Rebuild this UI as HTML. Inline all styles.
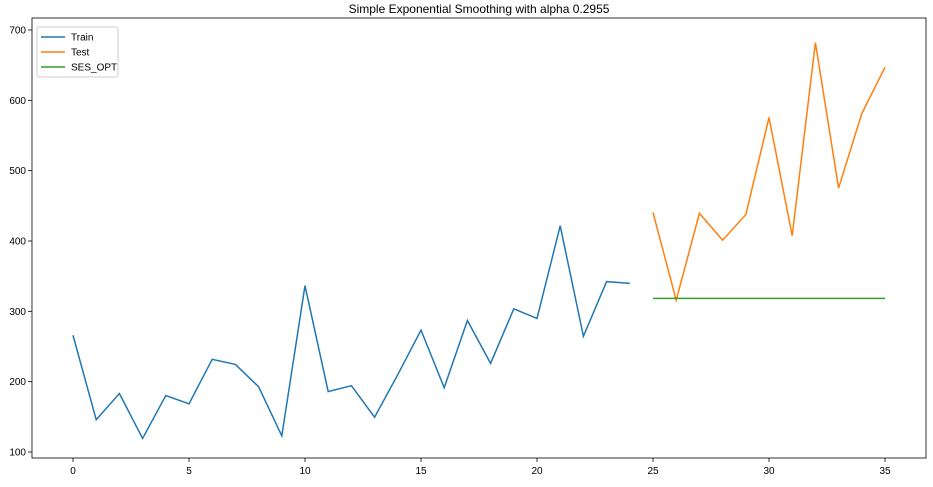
<!DOCTYPE html>
<html><head><meta charset="utf-8"><style>
body{margin:0;background:#fff;font-family:"Liberation Sans","DejaVu Sans",sans-serif;}
svg text{font-family:"Liberation Sans","DejaVu Sans",sans-serif;}
</style></head><body>
<svg id="chart" width="933" height="482" xmlns="http://www.w3.org/2000/svg"></svg>
<script>
const trainValues=[266.0,145.9,183.1,119.3,180.3,168.5,231.8,224.5,192.8,122.9,336.5,185.9,194.3,149.5,210.1,273.3,191.4,287.0,226.0,303.6,289.9,421.6,264.5,342.3,339.7];
const testValues=[440.4,315.9,439.3,401.3,437.4,575.5,407.6,682.0,475.3,581.3,646.9];
const sesValue=318.5;
const xTicks=[0,5,10,15,20,25,30,35];
const yTicks=[100,200,300,400,500,600,700];
const titleText="Simple Exponential Smoothing with alpha 0.2955";

const svg=document.getElementById('chart');
const NS="http://www.w3.org/2000/svg";
const L=32,R=926,T=18,B=458;
const xs=v=>73+(v-0)*(885-73)/35;
const ys=v=>452-(v-100)*(452-30)/600;
function mk(tag,attrs){const e=document.createElementNS(NS,tag);for(const k in attrs)e.setAttribute(k,attrs[k]);svg.appendChild(e);return e;}

const frame=mk('rect',{x:L,y:T,width:R-L,height:B-T,fill:'none',stroke:'#000','stroke-width':0.8});



const title=mk('text',{x:(L+R)/2,y:13,'text-anchor':'middle','font-size':12});
title.textContent=titleText;



xTicks.forEach(t=>{
  const x=xs(t);
  const tk=mk('line',{x1:x,x2:x,y1:B,y2:B+4,stroke:'#000','stroke-width':0.8});
  
  
  const lb=mk('text',{x:x,y:B+16,'text-anchor':'middle','font-size':10});
  lb.textContent=t;
  
  
});
yTicks.forEach(t=>{
  const y=ys(t);
  const tk=mk('line',{x1:L-4,x2:L,y1:y,y2:y,stroke:'#000','stroke-width':0.8});
  
  
  const lb=mk('text',{x:L-6,y:y+3.5,'text-anchor':'end','font-size':10});
  lb.textContent=t;
  
  
});

const trainPts=trainValues.map((v,i)=>xs(i)+','+ys(v)).join(' ');
const tr=mk('polyline',{points:trainPts,fill:'none',stroke:'#1f77b4','stroke-width':1.5});



const off=trainValues.length;
const testPts=testValues.map((v,i)=>xs(i+off)+','+ys(v)).join(' ');
const te=mk('polyline',{points:testPts,fill:'none',stroke:'#ff7f0e','stroke-width':1.5});



const se=mk('line',{x1:xs(off),x2:xs(off+testValues.length-1),y1:ys(sesValue),y2:ys(sesValue),stroke:'#2ca02c','stroke-width':1.5});



const lg=mk('rect',{x:37,y:27,width:81,height:50,fill:'#fff',stroke:'#ccc','stroke-width':1,rx:2});


[['Train','#1f77b4'],['Test','#ff7f0e'],['SES_OPT','#2ca02c']].forEach((e,i)=>{
  const y=37+i*15;
  const ln=mk('line',{x1:41,x2:65,y1:y,y2:y,stroke:e[1],'stroke-width':1.5});
  
  
  const tx=mk('text',{x:71,y:y+3.5,'font-size':10});
  tx.textContent=e[0];
  
  
});
</script>
</body></html>
